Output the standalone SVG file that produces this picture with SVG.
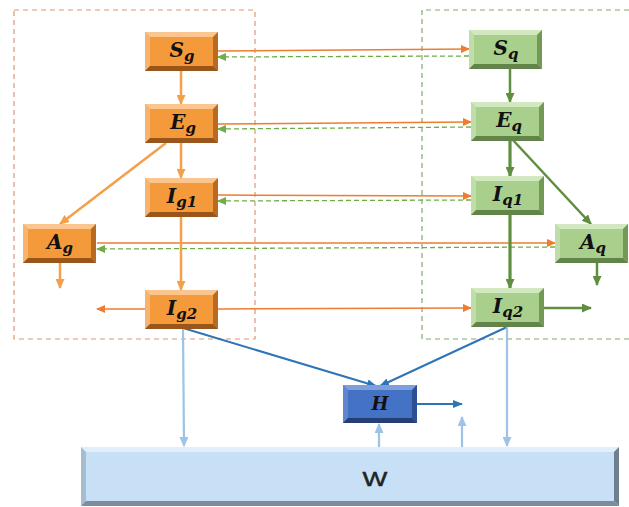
<svg xmlns="http://www.w3.org/2000/svg" width="629" height="507" viewBox="0 0 629 507">
<style>
.lbl{font-family:"DejaVu Serif","Liberation Serif",serif;font-weight:bold;font-style:italic;font-size:20px;fill:#111;text-anchor:middle}
.sub{font-size:15px}
.lh{font-size:18px}
.w{font-family:"Liberation Sans",Arial,sans-serif;font-size:21px;fill:#222;stroke:#222;stroke-width:0.5;text-anchor:middle}
.ol{stroke:#ED7D31;stroke-width:1.5;fill:none}
.ov{stroke:#F4A04A;stroke-width:2.5;fill:none}
.gd{stroke:#70AD47;stroke-width:1.3;stroke-dasharray:5 3;fill:none}
.gv{stroke:#5E8E3E;stroke-width:2.5;fill:none}
.gt{stroke:#5E8E3E;stroke-width:3.2;fill:none}
.bl{stroke:#2E75B6;stroke-width:2;fill:none}
.lb{stroke:#9DC3E6;stroke-width:2.2;fill:none}
.frameO{stroke:#DE9670;stroke-width:1.2;stroke-dasharray:5 4;fill:none}
.frameG{stroke:#82A86C;stroke-width:1.2;stroke-dasharray:5 4;fill:none}
</style>
<defs>
<marker id="mO" markerWidth="9" markerHeight="8" refX="8" refY="4" orient="auto" markerUnits="userSpaceOnUse"><path d="M0,0 L9,4 L0,8 Z" fill="#ED7D31"/></marker>
<marker id="mOv" markerWidth="10" markerHeight="9" refX="9" refY="4.5" orient="auto" markerUnits="userSpaceOnUse"><path d="M0,0 L10,4.5 L0,9 Z" fill="#F4A04A"/></marker>
<marker id="mG" markerWidth="9" markerHeight="8" refX="8" refY="4" orient="auto" markerUnits="userSpaceOnUse"><path d="M0,0 L9,4 L0,8 Z" fill="#70AD47"/></marker>
<marker id="mGv" markerWidth="10" markerHeight="9" refX="9" refY="4.5" orient="auto" markerUnits="userSpaceOnUse"><path d="M0,0 L10,4.5 L0,9 Z" fill="#5E8E3E"/></marker>
<marker id="mB" markerWidth="10" markerHeight="8" refX="9" refY="4" orient="auto" markerUnits="userSpaceOnUse"><path d="M0,0 L10,4 L0,8 Z" fill="#2E75B6"/></marker>
<marker id="mL" markerWidth="10" markerHeight="9" refX="9" refY="4.5" orient="auto" markerUnits="userSpaceOnUse"><path d="M0,0 L10,4.5 L0,9 Z" fill="#9DC3E6"/></marker>
<g id="bo">
<rect x="0" y="0" width="73" height="39" fill="#F59A3B"/>
<polygon points="0,0 73,0 68,5 5,5" fill="#FBC58F"/>
<polygon points="0,0 5,5 5,34 0,39" fill="#F8B36E"/>
<polygon points="73,0 68,5 68,34 73,39" fill="#B96A22"/>
<polygon points="0,39 73,39 68,34 5,34" fill="#9A561A"/>
</g>
<g id="bg">
<rect x="0" y="0" width="73" height="39" fill="#A8D08C"/>
<polygon points="0,0 73,0 68,5 5,5" fill="#D2E8C0"/>
<polygon points="0,0 5,5 5,34 0,39" fill="#BFDDA8"/>
<polygon points="73,0 68,5 68,34 73,39" fill="#739A55"/>
<polygon points="0,39 73,39 68,34 5,34" fill="#62844A"/>
</g>
</defs>
<rect width="629" height="507" fill="#fff"/>
<rect class="frameO" x="14" y="10" width="241" height="329"/>
<path class="frameG" d="M629,10 H422 V339 H629"/>

<g id="connectors">
<line class="ol" x1="218" y1="51" x2="469" y2="49" marker-end="url(#mO)"/>
<line class="gd" x1="469" y1="56" x2="218" y2="57" marker-end="url(#mG)"/>
<line class="ol" x1="218" y1="124" x2="471" y2="122" marker-end="url(#mO)"/>
<line class="gd" x1="471" y1="127" x2="218" y2="129" marker-end="url(#mG)"/>
<line class="ol" x1="218" y1="195" x2="471" y2="196" marker-end="url(#mO)"/>
<line class="gd" x1="471" y1="200" x2="218" y2="201" marker-end="url(#mG)"/>
<line class="ol" x1="97" y1="243" x2="555" y2="243" marker-end="url(#mO)"/>
<line class="gd" x1="555" y1="247" x2="97" y2="249" marker-end="url(#mG)"/>
<line class="ol" x1="218" y1="309" x2="471" y2="308" marker-end="url(#mO)"/>
<line class="ol" x1="145" y1="309" x2="97" y2="309" marker-end="url(#mO)"/>
<line class="ov" x1="181" y1="71" x2="181" y2="104" marker-end="url(#mOv)"/>
<line class="ov" x1="181" y1="142" x2="181" y2="178" marker-end="url(#mOv)"/>
<line class="ov" x1="181" y1="216" x2="181" y2="290" marker-end="url(#mOv)"/>
<line class="ov" x1="166" y1="143" x2="60" y2="224" marker-end="url(#mOv)"/>
<line class="ov" x1="60" y1="263" x2="60" y2="288" marker-end="url(#mOv)"/>
<line class="gv" x1="510" y1="68" x2="510" y2="102" marker-end="url(#mGv)"/>
<line class="gt" x1="510" y1="141" x2="510" y2="176" marker-end="url(#mGv)"/>
<line class="gv" x1="512" y1="139" x2="591" y2="224" marker-end="url(#mGv)"/>
<line class="gt" x1="510" y1="215" x2="510" y2="288" marker-end="url(#mGv)"/>
<line class="gv" x1="597" y1="263" x2="597" y2="285" marker-end="url(#mGv)"/>
<line class="gv" x1="544" y1="308" x2="591" y2="308" marker-end="url(#mGv)"/>
<line class="bl" x1="183" y1="328" x2="376" y2="386" marker-end="url(#mB)"/>
<line class="bl" x1="507" y1="327" x2="380" y2="386" marker-end="url(#mB)"/>
<line class="bl" x1="417" y1="404" x2="462" y2="404" marker-end="url(#mB)"/>
<line class="lb" x1="183" y1="328" x2="184" y2="446" marker-end="url(#mL)"/>
<line class="lb" x1="507" y1="327" x2="507" y2="446" marker-end="url(#mL)"/>
<line class="lb" x1="379" y1="447" x2="379" y2="424" marker-end="url(#mL)"/>
<line class="lb" x1="462" y1="447" x2="462" y2="417" marker-end="url(#mL)"/>
</g>

<g id="Sg"><use href="#bo" x="145" y="32"/><text class="lbl" x="182" y="57">S<tspan class="sub" dy="4">g</tspan></text></g>
<g id="Eg"><use href="#bo" x="145" y="104"/><text class="lbl" x="183" y="129">E<tspan class="sub" dy="4">g</tspan></text></g>
<g id="Ig1"><use href="#bo" x="145" y="178"/><text class="lbl" x="182" y="203">I<tspan class="sub" dy="4">g1</tspan></text></g>
<g id="Ag"><use href="#bo" x="23" y="224"/><text class="lbl" x="60" y="249">A<tspan class="sub" dy="4">g</tspan></text></g>
<g id="Ig2"><use href="#bo" x="145" y="290"/><text class="lbl" x="182" y="315">I<tspan class="sub" dy="4">g2</tspan></text></g>

<g id="Sq"><use href="#bg" x="469" y="30"/><text class="lbl" x="506" y="55">S<tspan class="sub" dy="4">q</tspan></text></g>
<g id="Eq"><use href="#bg" x="471" y="102"/><text class="lbl" x="509" y="127">E<tspan class="sub" dy="4">q</tspan></text></g>
<g id="Iq1"><use href="#bg" x="471" y="176"/><text class="lbl" x="508" y="201">I<tspan class="sub" dy="4">q1</tspan></text></g>
<g id="Aq"><use href="#bg" x="555" y="224"/><text class="lbl" x="593" y="249">A<tspan class="sub" dy="4">q</tspan></text></g>
<g id="Iq2"><use href="#bg" x="471" y="288"/><text class="lbl" x="508" y="313">I<tspan class="sub" dy="4">q2</tspan></text></g>

<g id="H">
<rect x="343" y="385" width="74" height="38" fill="#4472C4"/>
<polygon points="343,385 417,385 412,390 348,390" fill="#7E9FDB"/>
<polygon points="343,385 348,390 348,418 343,423" fill="#5F87D0"/>
<polygon points="417,385 412,390 412,418 417,423" fill="#2C5193"/>
<polygon points="343,423 417,423 412,418 348,418" fill="#243F73"/>
<text class="lbl lh" x="380" y="410">H</text>
</g>

<g id="W">
<rect x="81" y="447" width="538" height="59" fill="#C7E0F6"/>
<polygon points="81,447 619,447 614,452 86,452" fill="#E1EFFB"/>
<polygon points="81,447 86,452 86,501 81,506" fill="#A6BCD0"/>
<polygon points="619,447 614,452 614,501 619,506" fill="#6E7F90"/>
<polygon points="81,506 619,506 614,501 86,501" fill="#7C8C9C"/>
<text class="w" x="375" y="486" transform="translate(375,0) scale(1.25,1) translate(-375,0)">W</text>
</g>
</svg>
